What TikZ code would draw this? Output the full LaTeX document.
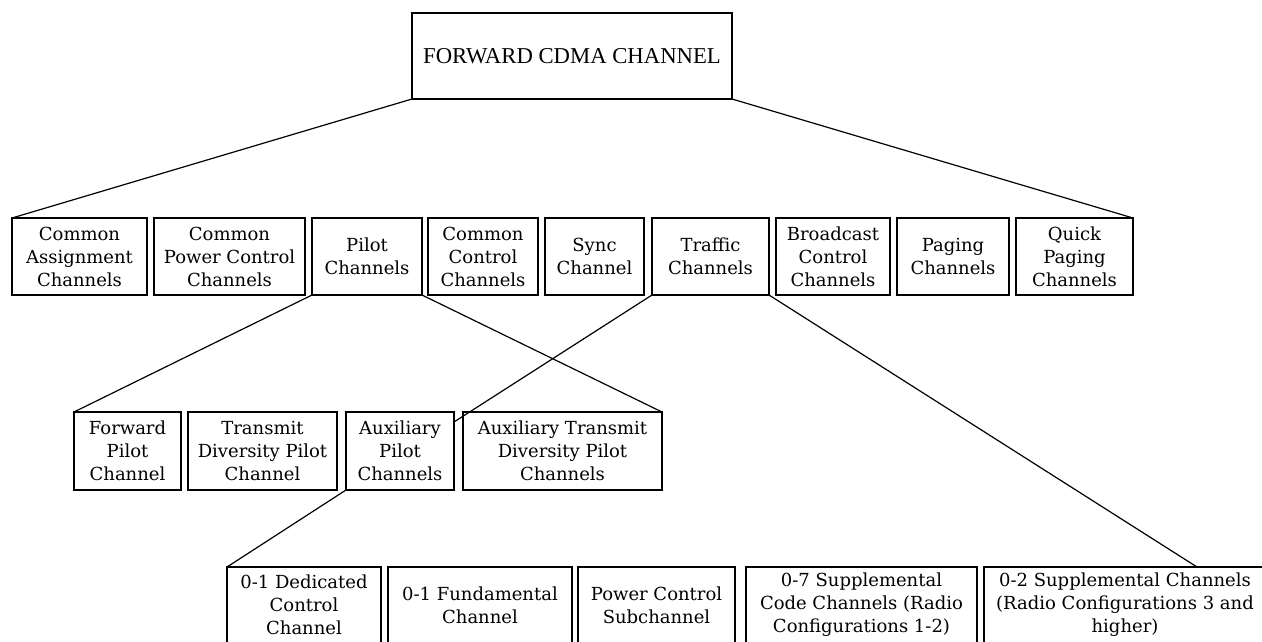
\documentclass[tikz,border=0pt]{standalone}
\usepackage{fontspec}
\setmainfont{DejaVu Serif}
\newfontfamily\titlefont{Liberation Serif}

% \chanbox{name}{x1}{y1}{x2}{y2}{text}: a framed box given by its corners
\newcommand\chanbox[6]{%
  \node[chan, minimum width={(#4-#2)*1pt}, minimum height={(#5-#3)*1pt}]
    (#1) at ({(#2+#4)/2},{(#3+#5)/2}) {#6};}

\begin{document}
\begin{tikzpicture}[x=1pt,y=-1pt,
  chan/.style={draw, line width=1.2pt, rectangle, inner sep=0pt, outer sep=0pt,
    align=center, font=\fontsize{18}{23}\selectfont},
  link/.style={line width=1.2pt}]
\useasboundingbox (0,0) rectangle (1262,641);
\clip (0,0) rectangle (1262,641);

% root
\node[chan, minimum width=320pt, minimum height=86pt,
  font=\titlefont\fontsize{22.7}{27}\selectfont] (fwd) at (572,56) {FORWARD CDMA CHANNEL};

% first level
\chanbox{ca}{12}{218}{147}{295}{Common\\Assignment\\Channels}
\chanbox{cpc}{154}{218}{305}{295}{Common\\Power Control\\Channels}
\chanbox{pilot}{312}{218}{422}{295}{Pilot\\Channels}
\chanbox{cc}{428}{218}{538}{295}{Common\\Control\\Channels}
\chanbox{sync}{545}{218}{644}{295}{Sync\\Channel}
\chanbox{traffic}{652}{218}{769}{295}{Traffic\\Channels}
\chanbox{bcc}{776}{218}{890}{295}{Broadcast\\Control\\Channels}
\chanbox{paging}{897}{218}{1009}{295}{Paging\\Channels}
\chanbox{qp}{1016}{218}{1133}{295}{Quick\\Paging\\Channels}

% pilot channels
\chanbox{fp}{74}{412}{181}{490}{Forward\\Pilot\\Channel}
\chanbox{td}{188}{412}{337}{490}{Transmit\\Diversity Pilot\\Channel}
\chanbox{auxp}{346}{412}{454}{490}{Auxiliary\\Pilot\\Channels}
\chanbox{atd}{463}{412}{662}{490}{Auxiliary Transmit\\Diversity Pilot\\Channels}

% traffic channels
\chanbox{dcc}{227}{567}{381}{643}{0-1 Dedicated\\Control\\Channel}
\chanbox{fch}{388}{567}{572}{643}{0-1 Fundamental\\Channel}
\chanbox{pcs}{578}{567}{735}{643}{Power Control\\Subchannel}
\chanbox{scch}{746}{567}{977}{643}{0-7 Supplemental\\Code Channels (Radio\\Configurations 1-2)}
\chanbox{sch}{984}{567}{1266}{643}{0-2 Supplemental Channels\\(Radio Configurations 3 and\\higher)}

% connectors
\draw[link] (fwd.south west) -- (ca.north west);
\draw[link] (fwd.south east) -- (qp.north east);
\draw[link] (pilot.south west) -- (fp.north west);
\draw[link] (pilot.south east) -- (atd.north east);
\draw[link] (traffic.south west) -- ([yshift=-10pt]auxp.north east);
\draw[link] (traffic.south east) -- ([xshift=213pt]sch.north west);
\draw[link] (auxp.south west) -- (dcc.north west);
\end{tikzpicture}
\end{document}
